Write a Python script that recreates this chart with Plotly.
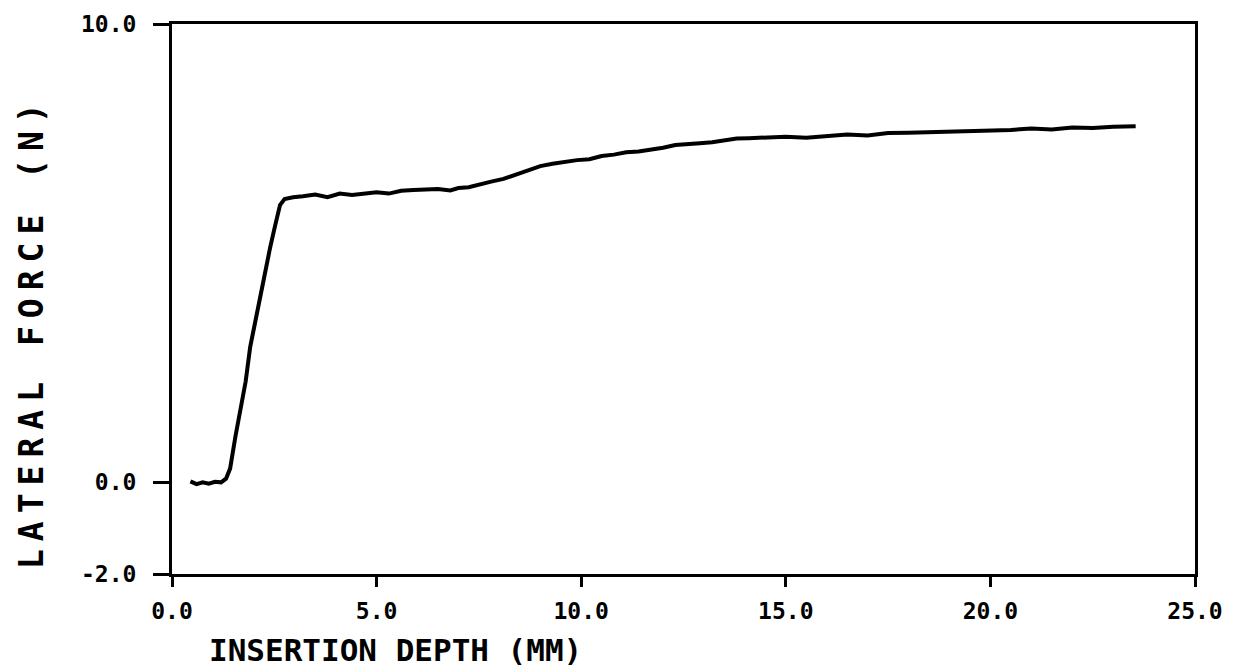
import plotly.graph_objects as go

# Insertion depth (mm) and lateral force (N) trace
depth_mm = [0.45, 0.6, 0.75, 0.9, 1.05, 1.2, 1.32, 1.42, 1.55, 1.66, 1.8, 1.91,
            2.03, 2.15, 2.28, 2.40, 2.52, 2.64, 2.75, 2.96, 3.2, 3.5, 3.8, 4.1,
            4.4, 4.7, 5.0, 5.3, 5.6, 5.9, 6.2, 6.5, 6.8, 7.0, 7.25, 7.5, 7.8,
            8.1, 8.4, 8.7, 9.0, 9.3, 9.6, 9.9, 10.2, 10.5, 10.8, 11.1, 11.4,
            11.7, 12.0, 12.3, 12.6, 12.9, 13.2, 13.5, 13.8, 14.1, 14.5, 15.0,
            15.5, 16.0, 16.5, 17.0, 17.5, 18.0, 18.5, 19.0, 19.5, 20.0, 20.5,
            21.0, 21.5, 22.0, 22.5, 23.0, 23.55]
force_n = [0.02, -0.04, 0.0, -0.03, 0.01, 0.0, 0.08, 0.3, 1.0, 1.5, 2.2, 2.95,
           3.5, 4.04, 4.6, 5.13, 5.6, 6.05, 6.18, 6.22, 6.24, 6.28, 6.22, 6.3,
           6.27, 6.3, 6.33, 6.3, 6.36, 6.38, 6.38, 6.4, 6.37, 6.42, 6.44, 6.5,
           6.56, 6.62, 6.72, 6.82, 6.9, 6.95, 7.0, 7.03, 7.05, 7.12, 7.15, 7.2,
           7.22, 7.25, 7.3, 7.36, 7.37, 7.4, 7.42, 7.47, 7.5, 7.51, 7.52, 7.54,
           7.52, 7.56, 7.59, 7.57, 7.62, 7.63, 7.64, 7.66, 7.66, 7.68, 7.69,
           7.72, 7.7, 7.74, 7.73, 7.76, 7.77]

x_ticks = [0, 5, 10, 15, 20, 25]
x_tick_text = ["0.0", "5.0", "10.0", "15.0", "20.0", "25.0"]
y_ticks = [-2, 0, 10]
y_tick_text = ["-2.0", "0.0", "10.0"]

x_title = "INSERTION DEPTH (MM)"
y_title = "LATERAL FORCE (N)"

tick_font = dict(family="DejaVu Sans Mono", size=23, color="black", weight="bold")
title_font = dict(family="DejaVu Sans Mono", size=31, color="black", weight="bold")

fig = go.Figure()
fig.add_trace(go.Scatter(
    x=depth_mm, y=force_n, mode="lines",
    line=dict(color="black", width=4),
    showlegend=False,
))

axis_common = dict(
    showline=True, linecolor="black", linewidth=3, mirror=True,
    showgrid=False, zeroline=False, ticks="outside", tickcolor="black",
    tickwidth=3, tickfont=tick_font,
)

fig.update_xaxes(range=[0, 25], tickvals=x_ticks, ticktext=x_tick_text,
                 ticklen=10, ticklabelstandoff=4, **axis_common)
fig.update_yaxes(range=[-2, 10], tickvals=y_ticks, ticktext=y_tick_text,
                 ticklen=16, ticklabelstandoff=12, **axis_common)

fig.add_annotation(
    text=x_title, xref="paper", yref="paper", x=0.218, y=-0.138,
    xanchor="center", yanchor="middle", showarrow=False, font=title_font,
)
fig.add_annotation(
    text='<span style="letter-spacing:8px">' + y_title + "</span>",
    xref="paper", yref="paper", x=-0.1378, y=0.44,
    xanchor="center", yanchor="middle", textangle=-90, showarrow=False,
    font=dict(family="DejaVu Sans Mono", size=33, color="black", weight="bold"),
)

fig.update_layout(
    width=1243, height=671,
    margin=dict(l=172, r=48, t=24, b=97),
    paper_bgcolor="white", plot_bgcolor="white",
)

fig.write_html("out.html")
